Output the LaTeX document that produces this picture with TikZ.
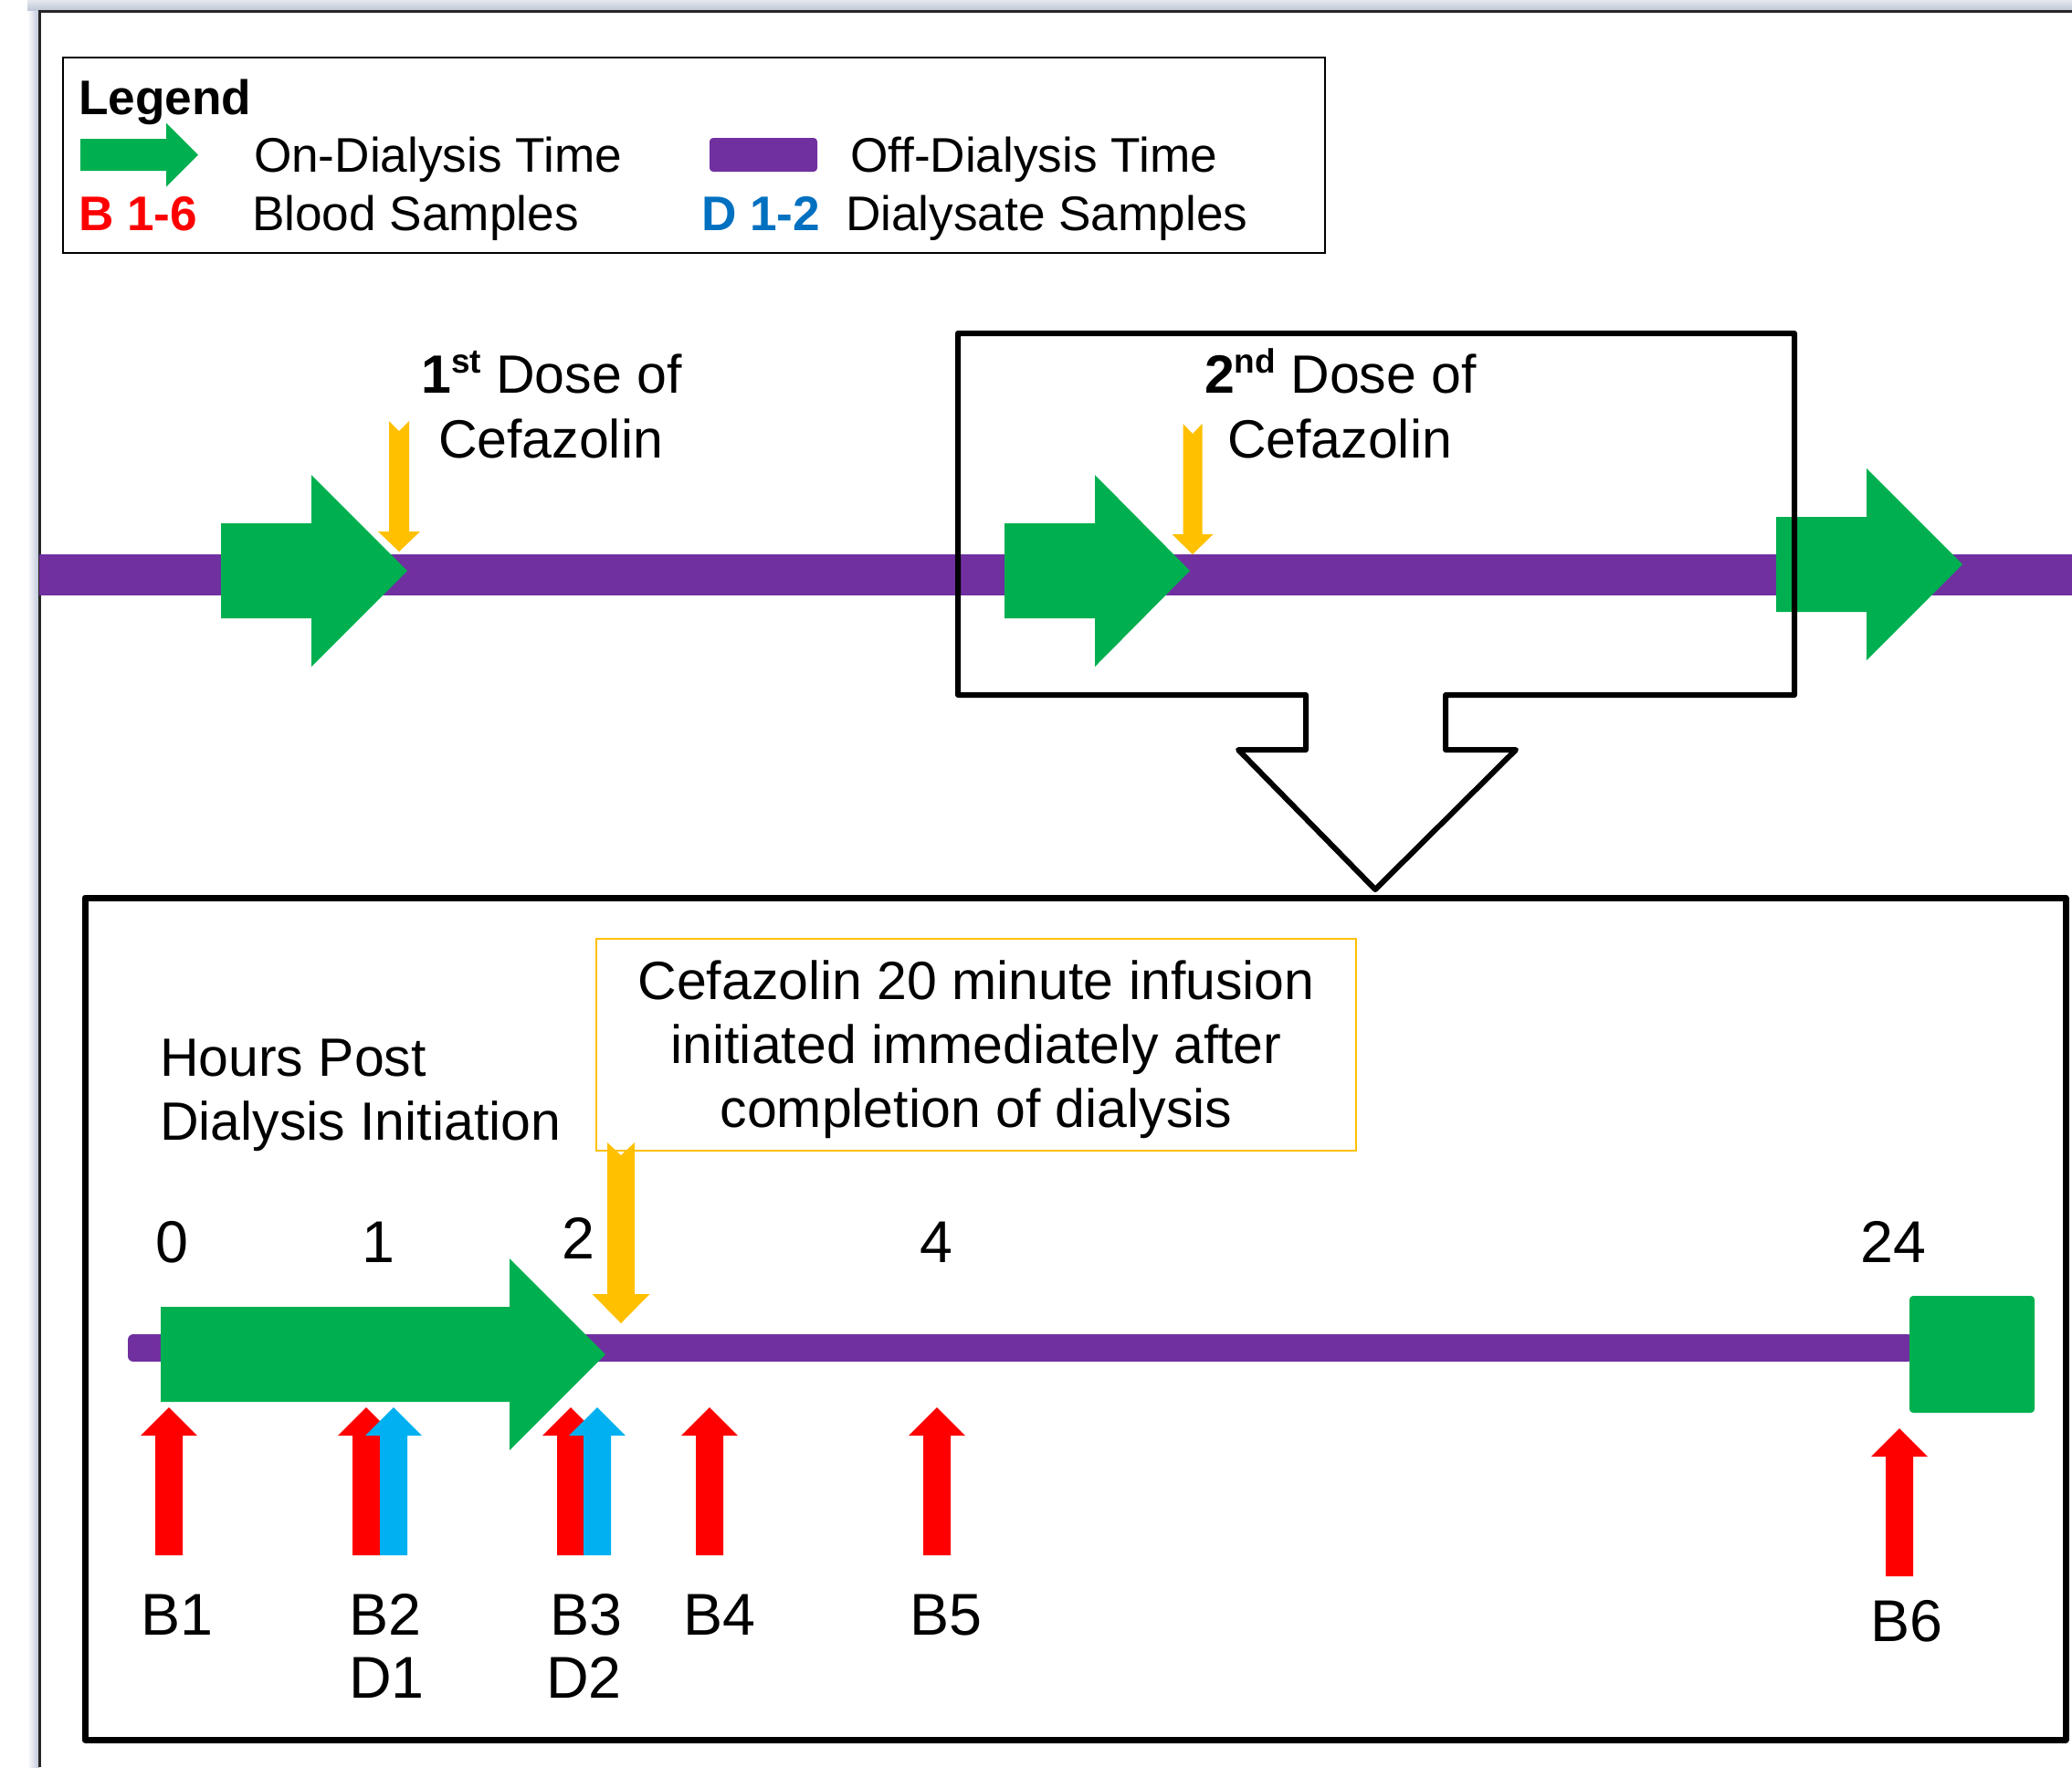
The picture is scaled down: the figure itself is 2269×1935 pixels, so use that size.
\documentclass[tikz,border=0pt]{standalone}
\usepackage{fontspec}
\setmainfont{Liberation Sans}
\definecolor{dgreen}{HTML}{00B050}
\definecolor{dpurple}{HTML}{7030A0}
\definecolor{dyellow}{HTML}{FFC000}
\definecolor{dred}{HTML}{FF0000}
\definecolor{dblue}{HTML}{0070C0}
\definecolor{lblue}{HTML}{00B0F0}
\definecolor{shadowc}{RGB}{188,196,214}
\newcommand\supx[1]{\raisebox{0.36em}{\fontsize{18.5}{18.5}\selectfont #1}}
% right-pointing block arrow: colour, x0, xheadbase, xtip, ycentre, shaft half height, head half height
\newcommand\blockright[7]{\fill[#1] (#2,#5-#6) -- (#3,#5-#6) -- (#3,#5-#7) -- (#4,#5) -- (#3,#5+#7) -- (#3,#5+#6) -- (#2,#5+#6) -- cycle;}
% up-pointing block arrow: colour, xc, shaft hw, head hw, ybottom, yheadbase, ytip
\newcommand\blockup[7]{\fill[#1] (#2-#3,#5) -- (#2-#3,#6) -- (#2-#4,#6) -- (#2,#7) -- (#2+#4,#6) -- (#2+#3,#6) -- (#2+#3,#5) -- cycle;}
% down-pointing notched arrow: colour, xc, shaft hw, head hw, ytop, ynotch, yheadbase, ytip
\newcommand\blockdown[8]{\fill[#1] (#2-#3,#5) -- (#2,#6) -- (#2+#3,#5) -- (#2+#3,#7) -- (#2+#4,#7) -- (#2,#8) -- (#2-#4,#7) -- (#2-#3,#7) -- cycle;}
\tikzset{
  legtxt/.style={inner sep=0pt, outer sep=0pt, font=\fontsize{26.6}{31}\selectfont},
  lbl/.style={inner sep=0pt, outer sep=0pt, font=\fontsize{29.5}{35}\selectfont},
  num/.style={inner sep=0pt, outer sep=0pt, font=\fontsize{32.3}{38}\selectfont},
  frameline/.style={line width=3pt, line join=round, draw=black},
}
\begin{document}
\begin{tikzpicture}[x=0.5pt,y=-0.5pt]
\useasboundingbox (0,0) rectangle (2269,1935);
\fill[white] (0,0) rectangle (2269,1935);
% page shadow and frame
\shade[top color=shadowc!40, bottom color=shadowc] (30,0) rectangle (2269,12);
\shade[left color=white, right color=shadowc] (30,12) rectangle (43,1935);
\draw[line width=1.5pt, black!85] (43,1935) -- (43,12) -- (2269,12);

% legend
\draw[line width=1pt] (69,63) rectangle (1451,277);
\blockright{dgreen}{88}{182}{217}{169.5}{17.5}{35}
\fill[dpurple, rounded corners=2pt] (777,151) rectangle (895,188);
\node[legtxt, anchor=base west] (legend) at (86,125) {\bfseries Legend};
\node[legtxt, anchor=base west] (ontime) at (278,188) {On-Dialysis Time};
\node[legtxt, anchor=base west] (offtime) at (931,188) {Off-Dialysis Time};
\node[legtxt, anchor=base west, text=dred] (bkey) at (86,252) {\bfseries B 1-6};
\node[legtxt, anchor=base west] (blood) at (276,252) {Blood Samples};
\node[legtxt, anchor=base west, text=dblue] (dkey) at (768,252) {\bfseries D 1-2};
\node[legtxt, anchor=base west] (dialysate) at (926,252) {Dialysate Samples};

% top timeline
\fill[dpurple] (43,607) rectangle (2269,652);
\blockright{dgreen}{242}{341}{446}{625}{52}{105}
\blockright{dgreen}{1100}{1199}{1303}{625}{52}{105}
\blockright{dgreen}{1945}{2044}{2149}{618}{52}{105}
\blockdown{dyellow}{437}{11}{23}{461}{472}{582}{604}
\blockdown{dyellow}{1306}{10.5}{22.5}{464}{475}{585}{607}
\node[lbl, anchor=base] (dose1a) at (604,430) {\bfseries 1\supx{st}\mdseries{} Dose of};
\node[lbl, anchor=base] (dose1b) at (603,501) {Cefazolin};
\node[lbl, anchor=base] (dose2a) at (1468,430) {\bfseries 2\supx{nd}\mdseries{} Dose of};
\node[lbl, anchor=base] (dose2b) at (1467,501) {Cefazolin};

% zoom box with callout arrow
\draw[frameline] (1049,365) -- (1965,365) -- (1965,761) -- (1583,761) -- (1583,821)
  -- (1660,821) -- (1506,974) -- (1356,821) -- (1430,821) -- (1430,761) -- (1049,761) -- cycle;

% lower panel
\draw[line width=3.5pt, line join=round] (93,983) rectangle (2262,1905);
\draw[dyellow, line width=1pt] (653,1028) rectangle (1485,1260);
\node[lbl, anchor=base] (info1) at (1069,1094) {Cefazolin 20 minute infusion};
\node[lbl, anchor=base] (info2) at (1069,1164) {initiated immediately after};
\node[lbl, anchor=base] (info3) at (1069,1234) {completion of dialysis};
\node[lbl, anchor=base west] (hours1) at (175,1178) {Hours Post};
\node[lbl, anchor=base west] (hours2) at (175,1248) {Dialysis Initiation};

\node[num, anchor=base] (h0) at (188,1382) {0};
\node[num, anchor=base] (h1) at (414,1382) {1};
\node[num, anchor=base] (h2) at (633,1378) {2};
\node[num, anchor=base] (h4) at (1025,1382) {4};
\node[num, anchor=base] (h24) at (2073,1382) {24};

\fill[dpurple, rounded corners=3pt] (140,1461) rectangle (2095,1491);
\blockright{dgreen}{176}{558}{663}{1483}{52}{105}
\fill[dgreen, rounded corners=2pt] (2091,1419) rectangle (2228,1547);
\blockdown{dyellow}{680}{15}{31.5}{1251}{1265}{1417}{1449}

% sample arrows
\blockup{dred}{185}{15}{31}{1703}{1572}{1541}
\blockup{dred}{401}{15}{31}{1703}{1572}{1541}
\blockup{lblue}{431}{15}{31}{1703}{1572}{1541}
\blockup{dred}{625}{15}{31}{1703}{1572}{1541}
\blockup{lblue}{654}{15}{31}{1703}{1572}{1541}
\blockup{dred}{777}{15}{31}{1703}{1572}{1541}
\blockup{dred}{1026}{15}{31}{1703}{1572}{1541}
\blockup{dred}{2080}{15}{31}{1726}{1595}{1564}

\node[num, anchor=base west] (b1) at (154,1790) {B1};
\node[num, anchor=base west] (b2) at (382,1790) {B2};
\node[num, anchor=base west] (d1) at (382,1859) {D1};
\node[num, anchor=base west] (b3) at (602,1790) {B3};
\node[num, anchor=base west] (d2) at (598,1859) {D2};
\node[num, anchor=base west] (b4) at (748,1790) {B4};
\node[num, anchor=base west] (b5) at (996,1790) {B5};
\node[num, anchor=base west] (b6) at (2048,1797) {B6};
\end{tikzpicture}
\end{document}
